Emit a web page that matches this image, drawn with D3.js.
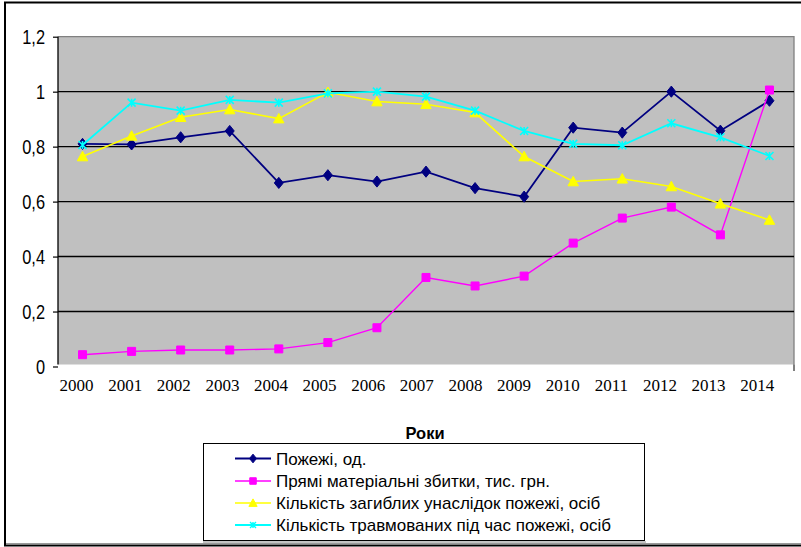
<!DOCTYPE html>
<html>
<head>
<meta charset="utf-8">
<script src="https://cdn.jsdelivr.net/npm/d3@7"></script>
<style>
  body { margin: 0; background: #fff; }
  svg { display: block; }
  text { font-family: "Liberation Sans", Arial, sans-serif; }
</style>
</head>
<body>
<svg id="chart" width="801" height="547"></svg>
<script>
const years = ["2000","2001","2002","2003","2004","2005","2006","2007","2008","2009","2010","2011","2012","2013","2014"];
const fires      = [0.81, 0.808, 0.834, 0.857, 0.668, 0.696, 0.673, 0.709, 0.649, 0.618, 0.869, 0.851, 1.0, 0.858, 0.967];
const losses     = [0.043, 0.055, 0.060, 0.060, 0.064, 0.087, 0.141, 0.324, 0.293, 0.329, 0.449, 0.540, 0.580, 0.479, 1.006];
const deaths     = [0.764, 0.839, 0.907, 0.935, 0.902, 0.998, 0.964, 0.954, 0.924, 0.764, 0.673, 0.683, 0.655, 0.592, 0.533];
const injured    = [0.806, 0.960, 0.931, 0.970, 0.960, 0.994, 1.0, 0.982, 0.931, 0.857, 0.810, 0.805, 0.885, 0.834, 0.766];
const seriesNames = ["Пожежі, од.", "Прямі матеріальні збитки, тис. грн.", "Кількість загиблих унаслідок пожежі, осіб", "Кількість травмованих під час пожежі, осіб"];
const yTicks = [0, 0.2, 0.4, 0.6, 0.8, 1, 1.2];
const xTitle = "Роки";

const series = [
  {name: seriesNames[0], values: fires,   color: "#000080", marker: "diamond",  width: 1.8},
  {name: seriesNames[1], values: losses,  color: "#ff00ff", marker: "square",   width: 1.4},
  {name: seriesNames[2], values: deaths,  color: "#ffff00", marker: "triangle", width: 1.6},
  {name: seriesNames[3], values: injured, color: "#00ffff", marker: "star",     width: 1.8}
];

const svg = d3.select("#chart");
const L = 58, R = 794, T = 36.7, B = 366.5;

const x = d3.scalePoint().domain(years).range([L, R]).padding(0.5);
const xLab = d3.scalePoint().domain(years).range([L, R]).padding(0.5);
const y = d3.scaleLinear().domain([0, 1.2]).range([B, T]);

// outer frame
svg.append("rect").attr("x", 5).attr("y", 2.5).attr("width", 800).attr("height", 543)
  .attr("fill", "#fff").attr("stroke", "#000").attr("stroke-width", 2);
svg.append("line").attr("x1", 6).attr("x2", 801).attr("y1", 543.5).attr("y2", 543.5)
  .attr("stroke", "#999").attr("stroke-width", 1);

// plot area
svg.append("rect").attr("x", L).attr("y", T).attr("width", R - L).attr("height", 364.5 - T)
  .attr("fill", "#c0c0c0");
svg.append("path").attr("d", `M${L},${T}H${R}V${364.5}`)
  .attr("fill", "none").attr("stroke", "#808080").attr("stroke-width", 1.3);
svg.append("line").attr("x1", R).attr("x2", R).attr("y1", 364.5).attr("y2", 371)
  .attr("stroke", "#000").attr("stroke-width", 1);

// gridlines
svg.append("g").selectAll("line").data(yTicks.filter(d => d > 0 && d < 1.2)).join("line")
  .attr("x1", L).attr("x2", R).attr("y1", d => y(d)).attr("y2", d => y(d))
  .attr("stroke", "#000").attr("stroke-width", 1.4);

// y axis
const yAxis = d3.axisLeft(y).tickValues(yTicks).tickSize(5).tickSizeOuter(0)
  .tickFormat(d => d3.format(".1~f")(d).replace(".", ","));
const gy = svg.append("g").attr("transform", `translate(${L},0)`).call(yAxis);
gy.select(".domain").remove();
gy.selectAll(".tick line").attr("stroke", "#000").attr("stroke-width", 1.2);
gy.selectAll(".tick text").remove();
gy.selectAll(".tick").each(function(d) {
  d3.select(this).append("text")
    .attr("transform", `translate(-13,0) scale(0.84,1)`)
    .attr("text-anchor", "end").attr("dy", "0.36em")
    .attr("fill", "#000").attr("font-size", 19.5)
    .style("font-family", '"Liberation Sans", Arial, sans-serif')
    .text(yAxis.tickFormat()(d));
});
svg.append("line").attr("x1", L).attr("x2", L).attr("y1", T).attr("y2", 364.5)
  .attr("stroke", "#000").attr("stroke-width", 1.3);

// x labels
svg.append("g").selectAll("text").data(years).join("text")
  .attr("x", (d, i) => xLab(d) - 6 - i * 0.45)
  .attr("y", 391)
  .attr("text-anchor", "middle")
  .attr("font-size", 17)
  .style("font-family", '"Liberation Serif", "Times New Roman", serif')
  .text(d => d);

// x title
svg.append("text").attr("x", 425).attr("y", 439).attr("text-anchor", "middle")
  .attr("font-size", 16.5).attr("font-weight", "bold").text(xTitle);

// marker paths
function markerPath(type, s) {
  switch (type) {
    case "diamond": return `M0,${-s*0.62}L${s*0.5},0L0,${s*0.62}L${-s*0.5},0Z`;
    case "square": return `M${-s/2},${-s/2}h${s}v${s}h${-s}Z`;
    case "triangle": return `M0,${-s*0.55}L${s*0.55},${s*0.45}L${-s*0.55},${s*0.45}Z`;
    case "star": { const h = s/2; return `M${-h},${-h}L${h},${h}M${-h},${h}L${h},${-h}M0,${-h}V${h}`; }
  }
}

const line = d3.line().x((d, i) => x(years[i])).y(d => y(d));
series.forEach(s => {
  const g = svg.append("g");
  g.append("path").attr("d", line(s.values)).attr("fill", "none")
    .attr("stroke", s.color).attr("stroke-width", s.width);
  const size = {diamond: 9, square: 8, triangle: 9.5, star: 8}[s.marker];
  g.selectAll("path.m").data(s.values).join("path").attr("class", "m")
    .attr("transform", (d, i) => `translate(${x(years[i])},${y(d)})`)
    .attr("d", markerPath(s.marker, size))
    .attr("fill", s.marker === "star" ? "none" : s.color)
    .attr("stroke", s.color).attr("stroke-width", s.marker === "star" ? 1.6 : 1);
});

// legend
const lg = svg.append("g");
lg.append("rect").attr("x", 203.5).attr("y", 443.5).attr("width", 441).attr("height", 97)
  .attr("fill", "#fff").attr("stroke", "#000").attr("stroke-width", 1);
lg.append("line").attr("x1", 203).attr("x2", 646).attr("y1", 542).attr("y2", 542)
  .attr("stroke", "#888").attr("stroke-width", 1);
const legY = [458.5, 481, 503, 525];
series.forEach((s, i) => {
  const yy = legY[i];
  lg.append("line").attr("x1", 235).attr("x2", 271).attr("y1", yy).attr("y2", yy)
    .attr("stroke", s.color).attr("stroke-width", s.width);
  const size = {diamond: 7, square: 6.5, triangle: 7.5, star: 6}[s.marker];
  lg.append("path").attr("transform", `translate(253,${yy})`)
    .attr("d", markerPath(s.marker, size))
    .attr("fill", s.marker === "star" ? "none" : s.color)
    .attr("stroke", s.color).attr("stroke-width", s.marker === "star" ? 1.4 : 1);
  lg.append("text").attr("x", 276).attr("y", yy).attr("dy", "0.36em")
    .attr("font-size", 17).text(s.name);
});
</script>
</body>
</html>
